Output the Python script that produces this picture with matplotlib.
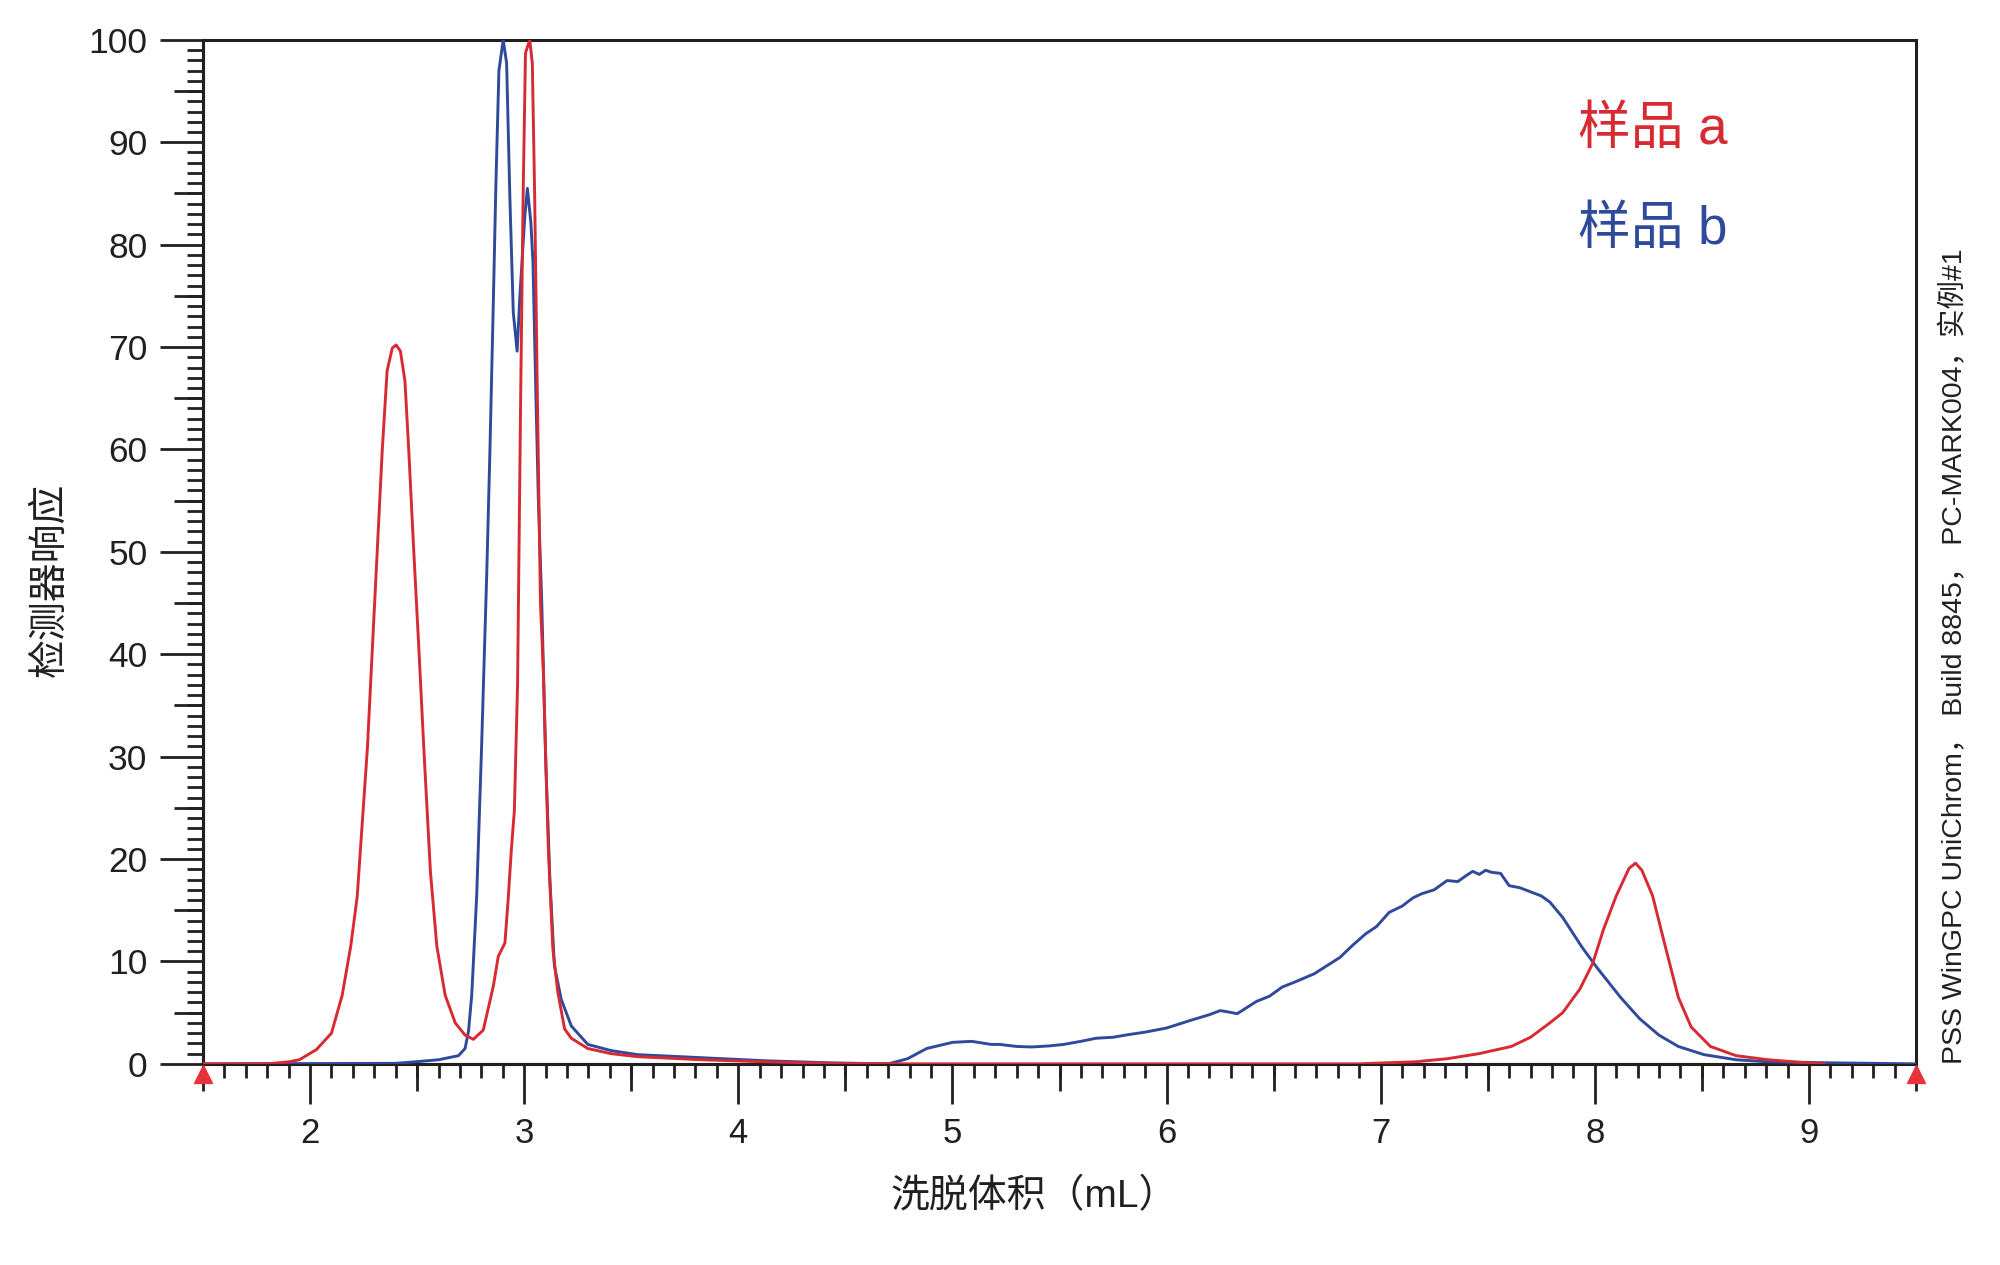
import matplotlib
matplotlib.use("Agg")
import matplotlib.pyplot as plt
from matplotlib.ticker import MultipleLocator, FixedLocator, NullFormatter

plt.rcParams['font.family'] = ['Liberation Sans', 'Noto Sans CJK SC', 'DejaVu Sans']

# ---------------- data ----------------
# Sample a (red)
x_a = [1.50, 1.80, 1.90, 1.95, 2.03, 2.10, 2.15, 2.19, 2.22, 2.244, 2.268, 2.291, 2.314,
       2.337, 2.36, 2.384, 2.402, 2.422, 2.443, 2.461, 2.484, 2.508, 2.531, 2.562, 2.592,
       2.631, 2.678, 2.724, 2.763, 2.809, 2.856, 2.879, 2.91, 2.925, 2.94, 2.954, 2.969,
       2.984, 2.995, 3.006, 3.026, 3.038, 3.049, 3.061, 3.076, 3.09, 3.103, 3.113, 3.134,
       3.157, 3.189, 3.22, 3.297, 3.405, 3.53, 3.83, 4.13, 4.43, 4.80, 6.90, 7.02, 7.16,
       7.31, 7.46, 7.61, 7.70, 7.79, 7.85, 7.93, 7.99, 8.04, 8.10, 8.16, 8.19, 8.22, 8.27,
       8.33, 8.39, 8.45, 8.54, 8.66, 8.81, 8.96, 9.07]
y_a = [0, 0, 0.2, 0.4, 1.4, 3.0, 6.7, 11.5, 16.3, 23.6, 30.9, 40.6, 50.2,
       59.9, 67.7, 69.9, 70.2, 69.6, 66.7, 59.9, 50.2, 40.6, 30.9, 18.8, 11.5,
       6.7, 4.0, 2.8, 2.4, 3.3, 7.6, 10.5, 11.8, 16.0, 20.9, 24.7, 37.0,
       66.0, 84.7, 98.7, 100.0, 97.7, 84.7, 66.0, 45.0, 38.0, 28.0, 20.9, 11.2,
       7.0, 3.4, 2.5, 1.5, 1.0, 0.7, 0.4, 0.2, 0.05, 0, 0, 0.1, 0.2,
       0.5, 1.0, 1.7, 2.6, 4.0, 5.0, 7.3, 9.8, 13.1, 16.4, 19.1, 19.6, 18.9, 16.4,
       11.4, 6.5, 3.6, 1.7, 0.8, 0.4, 0.15, 0]

# Sample b (blue)
x_b = [1.50, 2.40, 2.49, 2.60, 2.693, 2.724, 2.74, 2.755, 2.778, 2.801, 2.825, 2.84,
       2.856, 2.868, 2.882, 2.902, 2.918, 2.933, 2.949, 2.967, 2.98, 3.003, 3.015, 3.031,
       3.041, 3.054, 3.066, 3.082, 3.10, 3.12, 3.141, 3.173, 3.22, 3.297, 3.405, 3.53,
       3.83, 4.13, 4.43, 4.70, 4.79, 4.88, 5.00, 5.09, 5.18, 5.22, 5.30, 5.37, 5.45, 5.52,
       5.60, 5.67, 5.75, 5.82, 5.90, 6.00, 6.06, 6.12, 6.20, 6.25, 6.28, 6.33, 6.42, 6.48,
       6.54, 6.60, 6.69, 6.75, 6.81, 6.87, 6.93, 6.98, 7.04, 7.10, 7.15, 7.19, 7.25, 7.31,
       7.36, 7.40, 7.43, 7.46, 7.49, 7.52, 7.56, 7.60, 7.65, 7.70, 7.75, 7.79, 7.85, 7.94,
       8.01, 8.12, 8.21, 8.30, 8.39, 8.51, 8.66, 8.81, 9.10, 9.50]
y_b = [0, 0.05, 0.2, 0.4, 0.8, 1.5, 3.2, 6.7, 16.3, 30.9, 47.8, 59.9,
       74.5, 86.0, 97.0, 100.0, 97.7, 84.7, 73.4, 69.6, 75.0, 82.8, 85.5, 82.2,
       78.3, 66.0, 55.2, 45.0, 30.0, 18.0, 9.6, 6.3, 3.7, 1.9, 1.3, 0.9,
       0.6, 0.3, 0.1, 0, 0.5, 1.5, 2.1, 2.2, 1.9, 1.9, 1.7, 1.65, 1.75, 1.9,
       2.2, 2.5, 2.6, 2.85, 3.1, 3.5, 3.9, 4.3, 4.8, 5.2, 5.1, 4.9, 6.1, 6.6,
       7.5, 8.0, 8.8, 9.6, 10.4, 11.6, 12.7, 13.4, 14.8, 15.4, 16.2, 16.6, 17.0, 17.9,
       17.8, 18.4, 18.8, 18.5, 18.9, 18.7, 18.6, 17.4, 17.2, 16.8, 16.4, 15.8, 14.3, 11.4,
       9.4, 6.5, 4.4, 2.8, 1.7, 0.9, 0.4, 0.2, 0.1, 0]

# markers at integration limits
limit_x = [1.5, 9.5]
limit_y = [-1.0, -1.0]

legend_labels = ["样品 a", "样品 b"]
x_label = "洗脱体积（mL）"
y_label = "检测器响应"
side_note = "PSS WinGPC UniChrom， Build 8845， PC-MARK004，实例#1"

x_major = [2, 3, 4, 5, 6, 7, 8, 9]
x_mid = [1.5, 2.5, 3.5, 4.5, 5.5, 6.5, 7.5, 8.5, 9.5]
y_major = [0, 10, 20, 30, 40, 50, 60, 70, 80, 90, 100]
y_mid = [5, 15, 25, 35, 45, 55, 65, 75, 85, 95]

RED = '#d72a32'
BLUE = '#2f4a9a'
INK = '#231f20'

# ---------------- figure ----------------
fig = plt.figure(figsize=(20, 12.65), dpi=100)
ax = fig.add_axes([0.1015, 0.159, 0.8565, 0.8095])

ax.plot(x_b, y_b, color=BLUE, lw=2.1, zorder=3)
ax.plot(x_a, y_a, color=RED, lw=2.1, zorder=4)
ax.plot(limit_x, limit_y, linestyle='none', marker='^', markersize=13,
        color='#e8333a', clip_on=False, zorder=6)

ax.set_xlim(1.5, 9.5)
ax.set_ylim(0, 100)

for s in ax.spines.values():
    s.set_linewidth(2.2)
    s.set_color(INK)

ax.xaxis.set_major_locator(FixedLocator(x_major))
ax.xaxis.set_minor_locator(MultipleLocator(0.1))
ax.yaxis.set_major_locator(FixedLocator(y_major))
ax.yaxis.set_minor_locator(MultipleLocator(1))

ax.tick_params(axis='x', which='major', direction='out', length=29, width=2.0,
               color=INK, labelsize=25, pad=9, labelcolor=INK)
ax.tick_params(axis='x', which='minor', direction='out', length=10, width=2.0, color=INK)
ax.tick_params(axis='y', which='major', direction='out', length=31, width=2.0,
               color=INK, labelsize=25.5, pad=9, labelcolor=INK)
ax.tick_params(axis='y', which='minor', direction='out', length=11.5, width=2.0, color=INK)

# medium ticks via secondary axes
secx = ax.secondary_xaxis('bottom')
secx.xaxis.set_major_locator(FixedLocator(x_mid))
secx.xaxis.set_major_formatter(NullFormatter())
secx.tick_params(axis='x', which='major', direction='out', length=19.5, width=2.0, color=INK)
secx.tick_params(axis='x', which='minor', length=0)
secx.spines['bottom'].set_linewidth(2.2)
secx.spines['bottom'].set_color(INK)

secy = ax.secondary_yaxis('left')
secy.yaxis.set_major_locator(FixedLocator(y_mid))
secy.yaxis.set_major_formatter(NullFormatter())
secy.tick_params(axis='y', which='major', direction='out', length=21, width=2.0, color=INK)
secy.tick_params(axis='y', which='minor', length=0)
secy.spines['left'].set_linewidth(2.2)
secy.spines['left'].set_color(INK)

ax.set_xlabel(x_label, fontsize=28, color=INK, va='center', ha='center')
ax.xaxis.set_label_coords(0.485, -0.13)
ax.set_ylabel(y_label, fontsize=28, color=INK, va='center', ha='center')
ax.yaxis.set_label_coords(-0.089, 0.473)

fig.text(0.789, 0.897, legend_labels[0], color=RED, fontsize=38, ha='left', va='center')
fig.text(0.789, 0.818, legend_labels[1], color=BLUE, fontsize=38, ha='left', va='center')

fig.text(0.9775, 0.159, side_note, rotation=90, fontsize=20.5, color=INK,
         ha='center', va='bottom')

fig.savefig("out.png", dpi=100, facecolor='white')
